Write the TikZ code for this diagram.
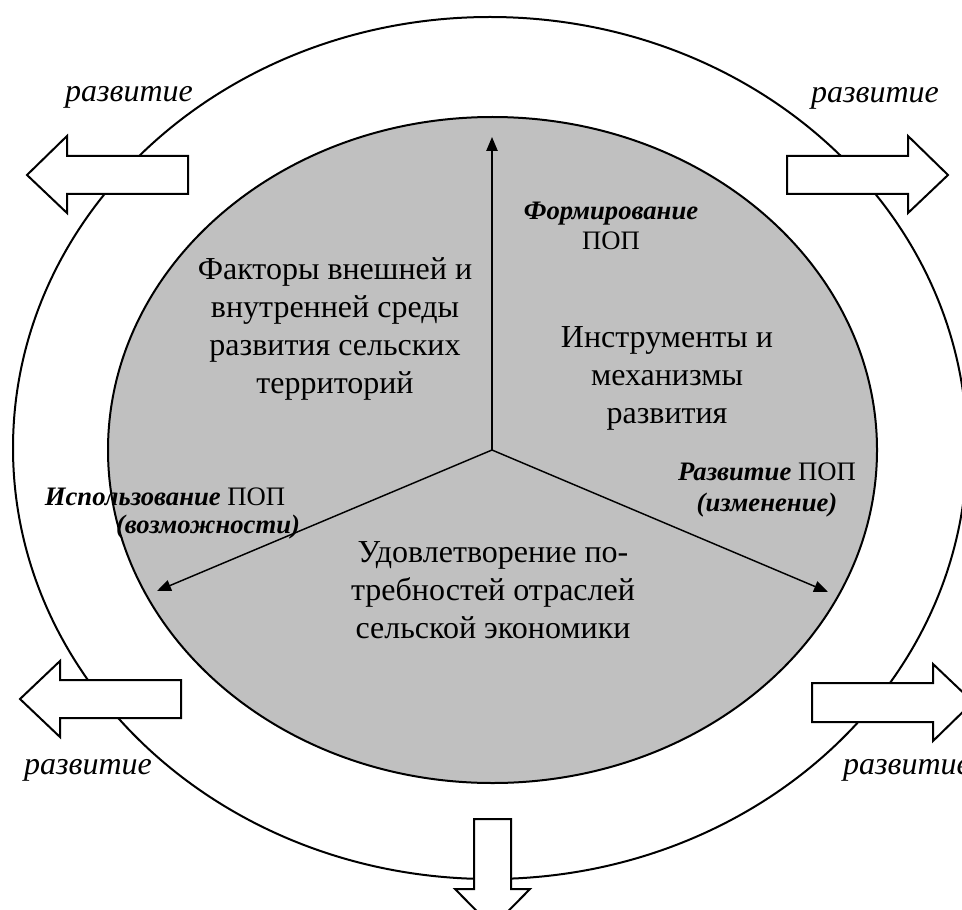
\documentclass[tikz,border=0pt]{standalone}
\usepackage{fontspec}
\setmainfont{Liberation Serif}
\usetikzlibrary{arrows.meta}
\definecolor{panelgray}{HTML}{C0C0C0}
\newcommand{\bitext}[1]{\textbf{\textit{#1}}}

\begin{document}
\begin{tikzpicture}[x=0.75pt, y=-0.75pt,
  every node/.style={align=center, inner sep=1pt},
  maintext/.style={font=\fontsize{24}{28.5}\selectfont},
  labeltext/.style={font=\fontsize{20}{23}\selectfont},
  devtext/.style={font=\fontsize{24}{28}\selectfont\itshape},
  ring/.style={line width=1.5pt},
  axis/.style={line width=1.1pt, -{Triangle[length=10.5pt, width=8.5pt]}},
  bigarrow/.style={draw, fill=white, line width=1.5pt, line join=miter}]
  \useasboundingbox (0,0) rectangle (962,909);
  \draw[ring] (490,448) ellipse [x radius=477, y radius=431];
  \draw[ring, fill=panelgray] (492.5,450) ellipse [x radius=384.5, y radius=333];

  \coordinate (c) at (492,450);
  \coordinate (up) at (492,137);
  \coordinate (left) at (157,591);
  \coordinate (right) at (828,592);
  \draw[axis] (c) -- (up);
  \draw[axis] (c) -- (left);
  \draw[axis] (c) -- (right);

  \node[maintext] (factors) at (335,329) {Факторы внешней и\\внутренней среды\\развития сельских\\территорий};
  \node[maintext] (tools) at (667,378) {Инструменты и\\механизмы\\развития};
  \node[maintext] (needs) at (493,590) {Удовлетворение по-\\требностей отраслей\\сельской экономики};

  \node[labeltext] (form) at (611,226) {\bitext{Формирование}\\ПОП};
  \node[labeltext] (change) at (767,490) {\bitext{Развитие} ПОП\\\bitext{(изменение)}};
  \node[labeltext] (use) at (165,497) {\bitext{Использование} ПОП};
  \node[labeltext] (chance) at (208,527) {\bitext{(возможности)}};

  \draw[bigarrow] (188,156) -- (67,156) -- (67,136) -- (27,175) -- (67,213) -- (67,194) -- (188,194) -- cycle;
  \draw[bigarrow] (787,156) -- (908,156) -- (908,136) -- (948,175) -- (908,213) -- (908,194) -- (787,194) -- cycle;
  \draw[bigarrow] (181,680) -- (60,680) -- (60,661) -- (20,699) -- (60,737) -- (60,718) -- (181,718) -- cycle;
  \draw[bigarrow] (812,683) -- (933,683) -- (933,664) -- (973,702) -- (933,741) -- (933,722) -- (812,722) -- cycle;
  \draw[bigarrow] (474,819) -- (474,889) -- (455,889) -- (492.5,927) -- (530,889) -- (511,889) -- (511,819) -- cycle;

  \node[devtext] (devtl) at (129,97) {развитие};
  \node[devtext] (devtr) at (875,98) {развитие};
  \node[devtext] (devbl) at (88,770) {развитие};
  \node[devtext] (devbr) at (907,770) {развитие};
\end{tikzpicture}
\end{document}
